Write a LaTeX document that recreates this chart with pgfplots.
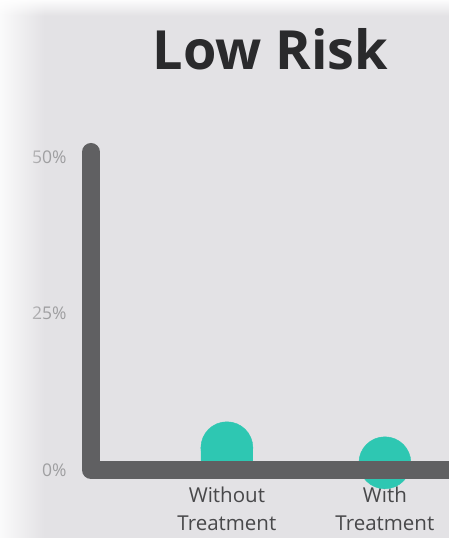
\documentclass[border=0pt]{standalone}
\usepackage{pgfplots}
\pgfplotsset{compat=1.18}
\usepackage{pgfplotstable}
\usepackage{fontspec}
\setmainfont{Open Sans}
\usetikzlibrary{fadings}
\definecolor{bg}{HTML}{E3E2E5}
\definecolor{axisgray}{HTML}{606062}
\definecolor{barteal}{HTML}{2EC7B2}
\definecolor{titlec}{HTML}{2A2A2C}
\definecolor{ticklab}{HTML}{9E9EA0}
\definecolor{catlab}{HTML}{48484A}
\tikzfading[name=fadeleft, left color=transparent!0, right color=transparent!100]
\tikzfading[name=fadetop, top color=transparent!0, bottom color=transparent!100]
\pgfplotstableread{
x v
0 7.7
1 5.3
}\bardata
\begin{document}
\begin{tikzpicture}[x=1pt,y=1pt]
\path[use as bounding box] (0,0) rectangle (449,538);
\fill[bg] (0,0) rectangle (449,538);
\begin{scope}
\clip (0,0) rectangle (449,538);
\node[titlec, font=\fontsize{54}{60}\selectfont\bfseries, anchor=base] at (270.5,468) {Low Risk};
\begin{axis}[
  at={(91pt,68pt)}, anchor=south west,
  scale only axis, width=372.9pt, height=318pt,
  xmin=-0.86, xmax=1.5, ymin=0, ymax=50.8,
  axis lines=left, axis line style={draw=none}, tick style={draw=none},
  major tick length=0pt,
  ytick={0,25,50}, yticklabels={0\%,25\%,50\%},
  yticklabel style={ticklab, font=\fontsize{17.5}{20}\selectfont, anchor=east, xshift=-21pt},
  xtick={0,1}, xticklabels={Without\\Treatment, With\\Treatment},
  xticklabel style={catlab, align=center, font=\fontsize{20.5}{28}\selectfont, anchor=north, yshift=-13pt},
]
\addplot[ybar, bar width=52pt, fill=barteal, draw=none] table[x=x, y expr=\thisrow{v}-4.15] {\bardata};
\addplot[only marks, mark=*, mark size=26pt, color=barteal, mark options={fill=barteal, draw=none}] table[x=x, y expr=\thisrow{v}-4.15] {\bardata};
\coordinate (TL) at (rel axis cs:0,1);
\coordinate (BL) at (rel axis cs:0,0);
\coordinate (BR) at (rel axis cs:1,0);
\end{axis}
\draw[axisgray, line width=18pt, line cap=round, line join=round] (TL) -- (BL) -- (BR);
\fill[white, opacity=0.85, path fading=fadeleft] (0,0) rectangle (45,538);
\fill[white, opacity=0.9, path fading=fadetop] (0,522) rectangle (449,538);
\end{scope}
\end{tikzpicture}
\end{document}
